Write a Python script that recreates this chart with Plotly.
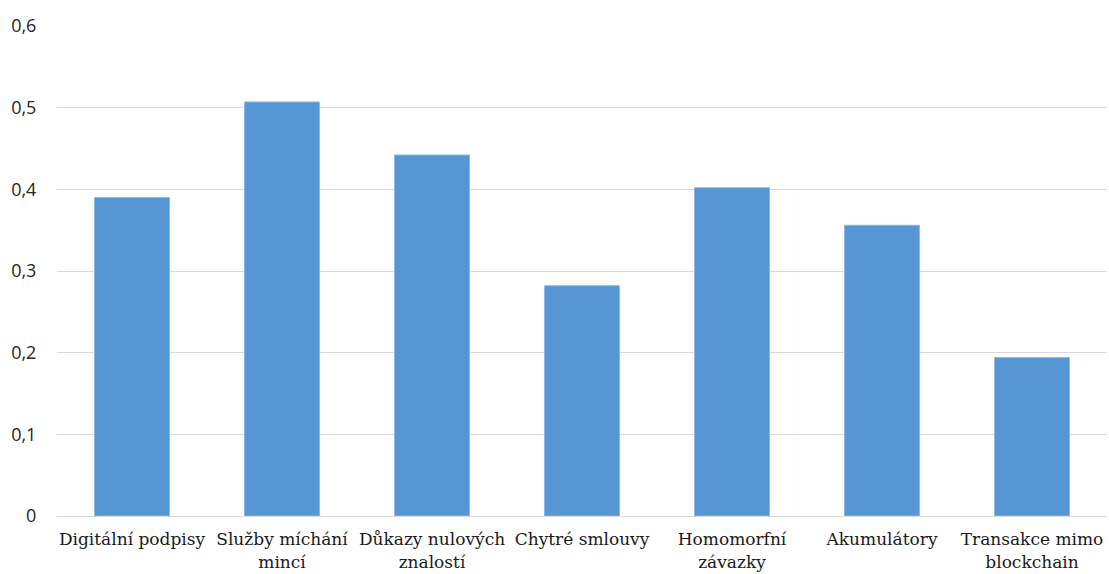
import plotly.graph_objects as go

categories = ["Digitální podpisy", "Služby míchání<br>mincí", "Důkazy nulových<br>znalostí",
              "Chytré smlouvy", "Homomorfní<br>závazky", "Akumulátory", "Transakce mimo<br>blockchain"]
values = [0.39, 0.507, 0.442, 0.282, 0.402, 0.356, 0.194]
y_tickvals = [0, 0.1, 0.2, 0.3, 0.4, 0.5, 0.6]
y_ticktext = ["0", "0,1", "0,2", "0,3", "0,4", "0,5", "0,6"]

fig = go.Figure(go.Bar(
    x=categories, y=values,
    marker=dict(color="#5696D4", line=dict(color="#8DBBE6", width=1)),
))

fig.update_layout(
    width=1109, height=574,
    margin=dict(l=57, r=2, t=26, b=58),
    paper_bgcolor="white", plot_bgcolor="white",
    bargap=0.5,
    showlegend=False,
    font=dict(family="DejaVu Serif"),
)
fig.update_xaxes(
    type="category",
    tickfont=dict(family="DejaVu Serif", size=17, color="#1a1a1a"),
    ticks="outside", ticklen=8, tickcolor="rgba(0,0,0,0)",
    showgrid=False, showline=False, zeroline=False,
)
fig.update_yaxes(
    range=[0, 0.6],
    tickvals=y_tickvals, ticktext=y_ticktext,
    tickfont=dict(family="Open Sans", size=18, color="#262626"),
    ticks="outside", ticklen=16, tickcolor="rgba(0,0,0,0)",
    showgrid=True, gridcolor="#d9d9d9", gridwidth=1,
    zeroline=True, zerolinecolor="#d9d9d9", zerolinewidth=1,
    showline=False,
)

fig.write_html("out.html")
